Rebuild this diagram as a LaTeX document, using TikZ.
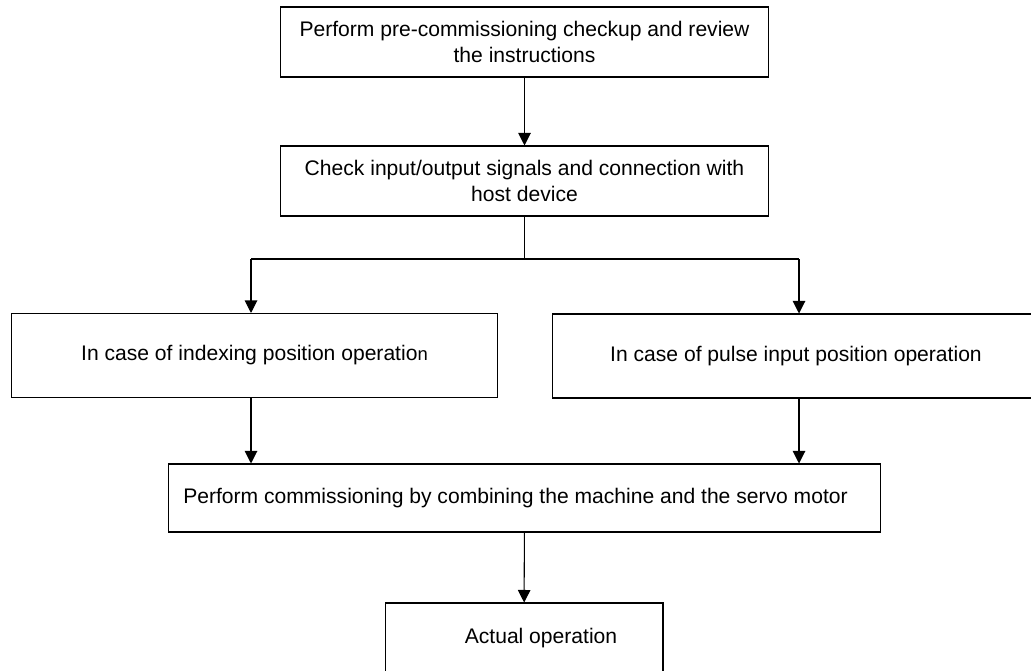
\documentclass[tikz,border=0pt]{standalone}
\usepackage{fontspec}
\setmainfont{Liberation Sans}
\usetikzlibrary{arrows.meta}

\begin{document}
\begin{tikzpicture}[>={Triangle[length=0.25cm, width=0.25cm]}, x=0.02cm, y=-0.02cm,
  line width=0.6pt,
  box/.style={draw, rectangle, align=center, inner sep=0pt,
    font=\fontsize{12}{14.5}\selectfont}]

\clip (0,0) rectangle (1031,670);

% Boxes
\node[box, minimum width=9.78cm, minimum height=1.4cm] (precheck) at (524.5,42)
  {Perform pre-commissioning checkup and review\\the instructions};
\node[box, minimum width=9.76cm, minimum height=1.4cm] (iocheck) at (524.5,181)
  {Check input/output signals and connection with\\host device};
\node[box, minimum width=9.74cm, minimum height=1.68cm] (indexing) at (254.5,355.5)
  {In case of indexing position operatio{\fontsize{10.5}{12}\selectfont n}};
\node[box, minimum width=9.76cm, minimum height=1.68cm] (pulse) at (796,356)
  {In case of pulse input position operation};
\node[box, minimum width=14.26cm, minimum height=1.36cm] (commission) at (524.5,498)
  {Perform commissioning by combining the machine and the servo motor\hspace*{0.36cm}};
\node[box, minimum width=5.56cm, minimum height=1.4cm] (actual) at (524,638)
  {\hspace*{0.68cm}Actual operation};

% Branch points
\coordinate (split) at (524.5,259);
\coordinate (splitL) at (251,259);
\coordinate (splitR) at (799,259);

% Arrows
\draw[->] (precheck) -- (iocheck);
\draw (iocheck.south) -- (split);
\draw (splitL) -- (splitR);
\draw[->] (splitL) -- (splitL |- indexing.north);
\draw[->] (splitR) -- (splitR |- pulse.north);
\draw[->] (splitL |- indexing.south) -- (splitL |- commission.north);
\draw[->] (splitR |- pulse.south) -- (splitR |- commission.north);
\draw[->] (commission) -- (actual);

\end{tikzpicture}
\end{document}
